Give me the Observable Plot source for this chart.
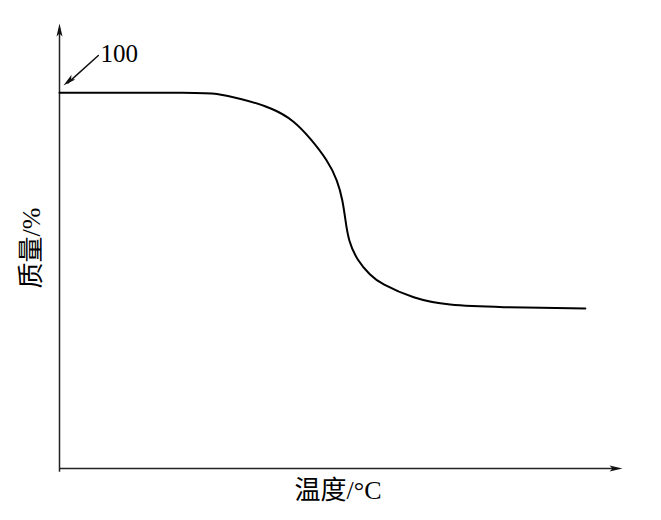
<!DOCTYPE html>
<html><head><meta charset="utf-8">
<script src="https://cdn.jsdelivr.net/npm/d3@7"></script>
<script src="https://cdn.jsdelivr.net/npm/@observablehq/plot@0.6"></script>
<style>body{margin:0;background:#fff}</style>
</head><body>
<div id="chart"></div>
<script>
// temperature (relative units) and mass (%)
const temperature = [0, 25.9, 27.4, 32.2, 38.0, 41.6, 44.6, 47.6, 49.4, 50.3, 50.8, 51.3, 52.9, 55.2, 57.0, 62.9, 68.9, 77.8, 93.4];
const mass        = [100, 100, 99.8, 98.5, 95.8, 92.6, 87.8, 82.0, 76.6, 71.3, 66.0, 60.7, 55.3, 51.4, 49.2, 45.2, 43.4, 42.9, 42.6];
const xLabel = "温度/°C";
const yLabel = "质量/%";
const annotation = "100";

const data = temperature.map((t, i) => ({t, m: mass[i]}));

const head = {draw(ctx) { ctx.moveTo(0, 0); ctx.lineTo(3, 13); ctx.lineTo(0, 10); ctx.lineTo(-3, 13); ctx.closePath(); }};

const font = "'Liberation Serif','Noto Sans CJK SC',serif";
const chart = Plot.plot({
  width: 661, height: 520,
  marginLeft: 59, marginRight: 39, marginTop: 17, marginBottom: 52,
  x: {domain: [0, 100], axis: null},
  y: {domain: [0, 120], axis: null},
  style: {fontFamily: font, background: "#fff"},
  marks: [
    Plot.ruleY([0], {x1: 0, x2: 99, stroke: "#222", strokeWidth: 1.5}),
    Plot.ruleX([0], {y1: -1, y2: 117, stroke: "#222", strokeWidth: 1.5}),
    Plot.dot([{x: 100, y: 0}], {x: "x", y: "y", symbol: head, fill: "#111", stroke: "none", rotate: 90}),
    Plot.dot([{x: 0, y: 118.4}], {x: "x", y: "y", symbol: head, fill: "#111", stroke: "none", rotate: 0}),
    Plot.line(data, {x: "t", y: "m", curve: "basis", stroke: "#000", strokeWidth: 2}),
    Plot.line([{x: 6.9, y: 109.9}, {x: 1.5, y: 102.6}], {x: "x", y: "y", stroke: "#111", strokeWidth: 1.5}),
    Plot.dot([{x: 0.7, y: 101.9}], {x: "x", y: "y", symbol: head, fill: "#111", stroke: "none", rotate: -130}),
    Plot.text([annotation], {x: 7.3, y: 110.3, text: d => d, textAnchor: "start", fontSize: 25, fill: "#000"}),
    Plot.text([yLabel], {frameAnchor: "left", textAnchor: "middle", dx: -28, dy: 5, rotate: -90, text: d => d, fontSize: 26, fill: "#000"}),
    Plot.text([xLabel], {frameAnchor: "bottom", textAnchor: "middle", dx: -3, dy: 30, text: d => d, fontSize: 26, fill: "#000"})
  ]
});
document.getElementById("chart").append(chart);
</script>
</body></html>
